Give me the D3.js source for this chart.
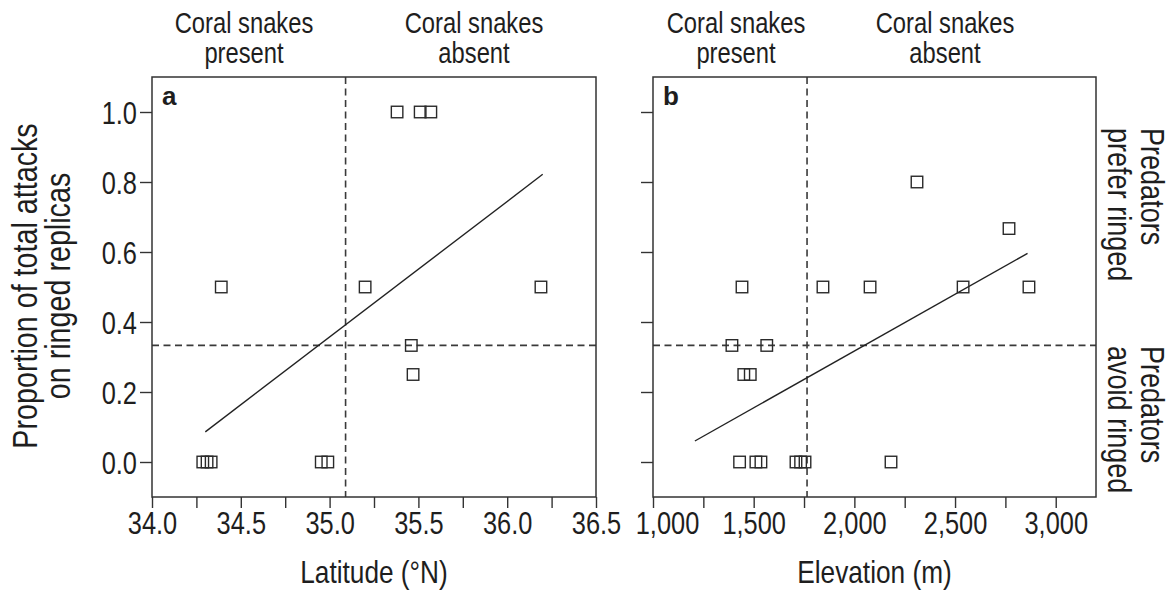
<!DOCTYPE html>
<meta charset="utf-8">
<style>
body { margin: 0; background: #fff; }
svg text { font-family: "Liberation Sans", Arial, sans-serif; fill: #1e1e1e; }
.frame { fill: none; stroke: #333; stroke-width: 1.5; }
.axis path { display: none; }
.axis line { stroke: #333; stroke-width: 1.4; }
.ref { stroke: #3a3a3a; stroke-width: 1.6; stroke-dasharray: 7,4.5; }
.fit { stroke: #222; stroke-width: 1.4; fill: none; }
.pt { fill: none; stroke: #2a2a2a; stroke-width: 1.4; }
</style>
<body>
<script src="https://d3js.org/d3.v7.min.js"></script>
<script>

// proportion of attacks on ringed replicas, by site
var latA  = [35.38, 35.51, 35.57, 34.39, 35.20, 36.19, 35.46, 35.47, 34.286, 34.31, 34.333, 34.953, 34.99];
var propA = [1, 1, 1, 0.5, 0.5, 0.5, 0.333, 0.25, 0, 0, 0, 0, 0];

var elevB = [2311, 2768, 1442, 1844, 2078, 2540, 2867, 1392, 1565, 1451, 1483, 1430, 1511, 1536, 1710, 1733, 1755, 2182];
var propB = [0.8, 0.667, 0.5, 0.5, 0.5, 0.5, 0.5, 0.333, 0.333, 0.25, 0.25, 0, 0, 0, 0, 0, 0, 0];

// regression line end points
var fitLatA = [34.30, 36.20], fitPropA = [0.086, 0.822];
var fitElevB = [1208, 2860], fitPropB = [0.06, 0.596];

// boundary of coral snake range, and the 1/3 no-preference level
var rangeEdgeLat = 35.09, rangeEdgeElev = 1765, chanceLevel = 1 / 3;

var propTicks = [0, 0.2, 0.4, 0.6, 0.8, 1.0];
var latMajor = [34.0, 34.5, 35.0, 35.5, 36.0, 36.5];
var latMinor = [34.25, 34.75, 35.25, 35.75, 36.25];
var elevMajor = [1000, 1500, 2000, 2500, 3000];
var elevMinor = [1250, 1750, 2250, 2750];

var NX = 0.82; // condensed type

var svg = d3.select("body").append("svg")
    .attr("width", 1170)
    .attr("height", 590);

var y = d3.scaleLinear().domain([-0.1, 1.1]).range([497, 77]);

function label(x, yy, str, size, opts) {
    opts = opts || {};
    var g = svg.append("g")
        .attr("transform", "translate(" + x + "," + yy + ")" + (opts.rotate ? " rotate(" + opts.rotate + ")" : ""));
    g.append("text")
        .attr("transform", "scale(" + NX + ",1)")
        .attr("text-anchor", opts.anchor || "middle")
        .style("font-size", size + "px")
        .text(str);
}

function panel(cfg) {
    var x = cfg.x;
    var g = svg.append("g");

    // y axis ticks
    var ya = g.append("g").attr("class", "axis")
        .attr("transform", "translate(" + x.range()[0] + ",0)")
        .call(d3.axisLeft(y).tickValues(propTicks).tickSize(12).tickSizeOuter(0)
            .tickPadding(3).tickFormat(cfg.yLabels ? d3.format(".1f") : ""));
    ya.selectAll("text")
        .style("font-size", "31px")
        .attr("transform", "scale(" + NX + ",1)")
        .attr("x", -15 / NX)
        .attr("dy", "0.36em");

    // x axis ticks
    g.append("g").attr("class", "axis")
        .attr("transform", "translate(0," + y.range()[0] + ")")
        .call(d3.axisBottom(x).tickValues(cfg.minor).tickSize(11).tickSizeOuter(0).tickFormat(""));
    var xa = g.append("g").attr("class", "axis")
        .attr("transform", "translate(0," + y.range()[0] + ")")
        .call(d3.axisBottom(x).tickValues(cfg.major).tickSize(11).tickSizeOuter(0)
            .tickPadding(4).tickFormat(cfg.fmt));
    xa.selectAll("text")
        .style("font-size", "31px")
        .attr("transform", "scale(" + NX + ",1)")
        .attr("x", function (d, i) { return (i === 0 ? cfg.firstShift : 0) / NX; });

    // reference lines
    g.append("line").attr("class", "ref")
        .attr("x1", x(cfg.edge)).attr("x2", x(cfg.edge))
        .attr("y1", y.range()[1]).attr("y2", y.range()[0]);
    g.append("line").attr("class", "ref")
        .attr("x1", x.range()[0]).attr("x2", x.range()[1])
        .attr("y1", y(chanceLevel)).attr("y2", y(chanceLevel));

    // fitted line
    g.append("line").attr("class", "fit")
        .attr("x1", x(cfg.fitX[0])).attr("y1", y(cfg.fitY[0]))
        .attr("x2", x(cfg.fitX[1])).attr("y2", y(cfg.fitY[1]));

    // sites
    var s = 11.5;
    g.selectAll(".pt")
        .data(cfg.xs)
        .enter().append("rect")
        .attr("class", "pt")
        .attr("x", function (d) { return x(d) - s / 2; })
        .attr("y", function (d, i) { return y(cfg.ys[i]) - s / 2; })
        .attr("width", s)
        .attr("height", s);

    // frame
    g.append("rect").attr("class", "frame")
        .attr("x", x.range()[0]).attr("y", y.range()[1])
        .attr("width", x.range()[1] - x.range()[0])
        .attr("height", y.range()[0] - y.range()[1]);

    g.append("text")
        .attr("x", x.range()[0] + 10).attr("y", 105)
        .style("font-size", "26px").style("font-weight", "bold")
        .text(cfg.tag);

    label(cfg.presentX, 33, "Coral snakes", 29);
    label(cfg.presentX, 63, "present", 29);
    label(cfg.absentX, 33, "Coral snakes", 29);
    label(cfg.absentX, 63, "absent", 29);

    label((x.range()[0] + x.range()[1]) / 2, 583, cfg.title, 32);
}

var xLat = d3.scaleLinear().domain([34, 36.5]).range([152, 596]);
var xElev = d3.scaleLinear().domain([1000, 3200]).range([653, 1096]);

panel({
    x: xLat, xs: latA, ys: propA, tag: "a", yLabels: true,
    major: latMajor, minor: latMinor, fmt: d3.format(".1f"), firstShift: 0,
    edge: rangeEdgeLat, fitX: fitLatA, fitY: fitPropA,
    presentX: 244, absentX: 474, title: "Latitude (°N)"
});

panel({
    x: xElev, xs: elevB, ys: propB, tag: "b", yLabels: false,
    major: elevMajor, minor: elevMinor, fmt: d3.format(","), firstShift: 14,
    edge: rangeEdgeElev, fitX: fitElevB, fitY: fitPropB,
    presentX: 736, absentX: 945, title: "Elevation (m)"
});

// y axis title
label(37, 286, "Proportion of total attacks", 35, { rotate: -90 });
label(70, 286, "on ringed replicas", 35, { rotate: -90 });

// right-hand annotations
label(1141, 128, "Predators", 33, { rotate: 90, anchor: "start" });
label(1108, 128, "prefer ringed", 33, { rotate: 90, anchor: "start" });
label(1141, 346, "Predators", 33, { rotate: 90, anchor: "start" });
label(1108, 346, "avoid ringed", 33, { rotate: 90, anchor: "start" });

</script>
</body>
